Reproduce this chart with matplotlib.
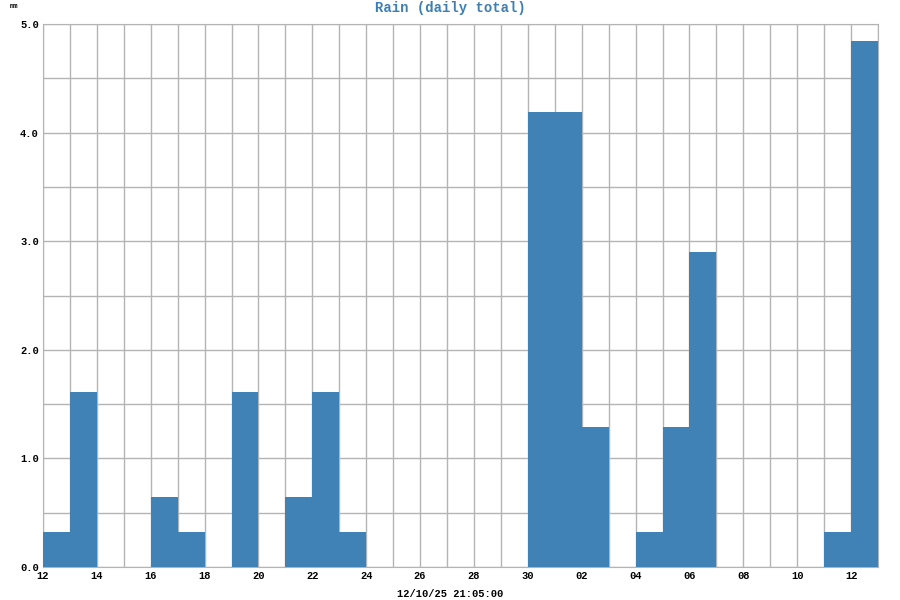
import numpy as np
import pandas as pd
import matplotlib
matplotlib.use("Agg")
import matplotlib.pyplot as plt
import matplotlib.dates as mdates

# daily rain totals (mm), 2025-11-12 .. 2025-12-12
start_day = "2025-11-12"
rain_mm = [
    0.32, 1.61, 0.0, 0.0, 0.64, 0.32, 0.0, 1.61, 0.0, 0.64,   # Nov 12-21
    1.61, 0.32, 0.0, 0.0, 0.0, 0.0, 0.0, 0.0, 4.19,           # Nov 22-30
    4.19, 1.29, 0.0, 0.32, 1.29, 2.90, 0.0, 0.0, 0.0, 0.0,    # Dec 1-10
    0.32, 4.84,                                               # Dec 11-12
]
days = pd.date_range(start_day, periods=len(rain_mm), freq="D")
timestamp = "12/10/25 21:05:00"

bar_color = "#4182b6"
grid_color = "#b4b4b4"
mono = "Liberation Mono"

fig = plt.figure(figsize=(9, 6), dpi=100)
ax = fig.add_axes([43 / 900, 33 / 600, 835 / 900, 543 / 600])

ax.bar(days, rain_mm, width=1.0, align="edge", color=bar_color, linewidth=0, zorder=3)

ax.set_xlim(days[0], days[-1] + pd.Timedelta(days=1))
ax.set_ylim(0, 5.0)

ax.xaxis.set_major_locator(mdates.DayLocator(interval=2, bymonthday=range(2, 32, 2)))
ax.xaxis.set_major_formatter(mdates.DateFormatter("%d"))
ax.xaxis.set_minor_locator(mdates.DayLocator())
ax.set_yticks(np.arange(0, 5.01, 1.0))
ax.set_yticks(np.arange(0.5, 5.0, 1.0), minor=True)
ax.yaxis.set_major_formatter(matplotlib.ticker.FormatStrFormatter("%.1f"))

ax.grid(True, which="both", color=grid_color, linewidth=1.0, zorder=0)
ax.set_axisbelow(True)
ax.tick_params(which="both", length=0, pad=3)
for lab in ax.get_xticklabels() + ax.get_yticklabels():
    lab.set_family(mono)
    lab.set_fontweight("bold")
    lab.set_fontsize(7.5)
for side in ax.spines.values():
    side.set_color(grid_color)

fig.text(10 / 900, 1 - 7 / 600, "mm", family=mono, fontsize=5, fontweight="bold",
         va="center", ha="left")
fig.text(450 / 900, 1 - 8 / 600, "Rain (daily total)", family=mono, fontsize=10,
         fontweight="bold", color="#3c7fb5", ha="center", va="center")
fig.text(450 / 900, 1 - 594 / 600, timestamp, family=mono, fontsize=7.5,
         fontweight="bold", ha="center", va="center")

fig.savefig("out.png", dpi=100)
